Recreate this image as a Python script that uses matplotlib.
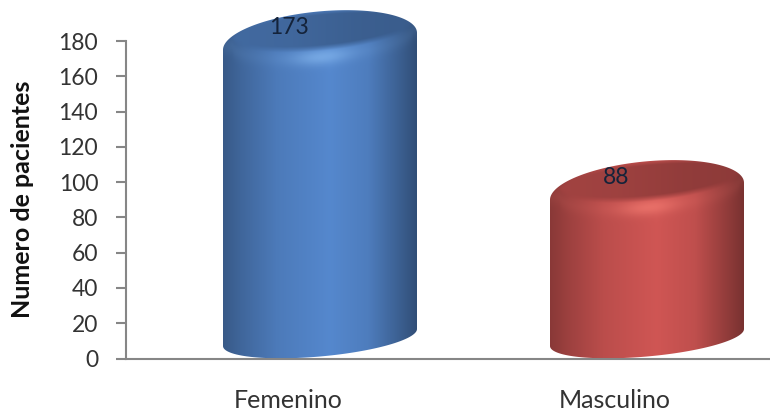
import numpy as np
import matplotlib
matplotlib.use('Agg')
import matplotlib.pyplot as plt
from matplotlib.patches import Polygon

# Chart data
categories = ['Femenino', 'Masculino']
patients = [173, 88]
yticks = list(range(0, 181, 20))

plt.rcParams['font.family'] = ['Lato', 'DejaVu Sans']

FIG_W, FIG_H = 770, 415
fig = plt.figure(figsize=(FIG_W / 100, FIG_H / 100), dpi=100, facecolor='white')
# axes box in pixels: x 126-770, y 41-358.5
ax = fig.add_axes([126 / FIG_W, 1 - 358.5 / FIG_H, (FIG_W - 126) / FIG_W, 317.5 / FIG_H])

PX_X = 327.0  # pixels between the two categories
PX_Y = 317.5 / 180  # pixels per patient
HALF_W = 97.0  # cylinder half width
RISE = 8.5  # the cylinder leans up to the right by this many pixels

# outer shoulder of the cylinder top
SHOULDER_B = 30.0
SHOULDER_LIFT = 12.0
# recessed cap ellipse
CAP_B = 19.0
CAP_LIFT = 23.0
CAP_SCALE = 0.93
# base of the cylinder
FOOT_B = 19.0
FOOT_LIFT = 21.0

SHADE_U = [-1.0, -0.8, -0.45, 0.1, 0.5, 0.8, 1.0]
SHADE_F = [0.66, 0.76, 0.9, 1.0, 0.92, 0.72, 0.58]


def draw_cylinder(ax, xpos, value, base, glow):
    """Draw one shaded, tilted cylinder from 0 up to value."""
    base = np.array(base, dtype=float)
    glow = np.array(glow, dtype=float)
    ycap = value + CAP_LIFT / PX_Y
    ymin, ymax = -2.0, value + 60 / PX_Y

    u = np.linspace(-1.03, 1.03, 420)
    y = np.linspace(ymax, ymin, 520)
    uu, yy = np.meshgrid(u, y)

    # position relative to the cap ellipse, in pixels
    uc = np.clip((uu - 0.03) / CAP_SCALE, -1, 1)
    edge = CAP_B * np.sqrt(1 - uc ** 2)
    v = (ycap - yy) * PX_Y + RISE * uc

    factor = np.interp(uu, SHADE_U, SHADE_F)
    rgb = base[None, None, :] * factor[..., None]

    # lit lip just under the rim of the cap
    w = v - edge
    lip = np.exp(-((w - 8) / 8.0) ** 2) * (w > -6)
    spot = np.exp(-((uu - 0.02) / 0.3) ** 2)
    rgb = rgb + (lip * (0.12 + 0.75 * spot))[..., None] * (glow - rgb) * 0.75

    # recessed cap, darker than the side
    cap_f = np.interp(uu, [-1, -0.3, 0.4, 1], [0.78, 0.76, 0.7, 0.68])
    cap = base[None, None, :] * cap_f[..., None]
    mix = np.clip((edge - np.abs(v) + 2) / 6.0, 0, 1)[..., None]
    rgb = rgb * (1 - mix) + cap * mix

    half = HALF_W / PX_X
    im = ax.imshow(np.clip(rgb, 0, 255).astype(np.uint8),
                   extent=[xpos - 1.03 * half, xpos + 1.03 * half, ymin, ymax],
                   aspect='auto', interpolation='bilinear', zorder=2)

    # outline: far half of the shoulder, near half of the foot
    t = np.linspace(np.pi, 0, 90)
    top = [(xpos + half * np.cos(a),
            value + (SHOULDER_LIFT + SHOULDER_B * np.sin(a) + RISE * np.cos(a)) / PX_Y) for a in t]
    t = np.linspace(0, -np.pi, 90)
    bot = [(xpos + half * np.cos(a),
            (FOOT_LIFT + FOOT_B * np.sin(a) + RISE * np.cos(a)) / PX_Y) for a in t]
    outline = Polygon(top + bot, closed=True, transform=ax.transData, fill=False, lw=0, clip_on=False)
    ax.add_patch(outline)
    im.set_clip_box(fig.bbox)
    im.set_clip_path(outline)


draw_cylinder(ax, 0, patients[0], (85, 136, 206), (135, 185, 240))
draw_cylinder(ax, 1, patients[1], (208, 86, 84), (245, 125, 115))

ax.set_xlim(-194 / PX_X, 450 / PX_X)
ax.set_ylim(0, 180)

# value labels sit on the caps
for i, val in enumerate(patients):
    ax.annotate(str(val), xy=(i, val), xytext=(-31, 26), textcoords='offset pixels',
                ha='center', va='center', fontsize=16.5, color='#14233a',
                zorder=4, annotation_clip=False)

# category names sit left of the cylinder centres
for i, name in enumerate(categories):
    ax.annotate(name, xy=(i, 0), xytext=(-32, -42), textcoords='offset pixels',
                ha='center', va='center', fontsize=18, color='#333333',
                annotation_clip=False)

for side in ('top', 'right'):
    ax.spines[side].set_visible(False)
for side in ('left', 'bottom'):
    ax.spines[side].set_color('#868686')
    ax.spines[side].set_linewidth(1.5)
    ax.spines[side].set_zorder(3)

ax.set_xticks([])
ax.set_yticks(yticks)
ax.tick_params(axis='y', length=7, width=1.5, color='#868686', labelsize=16.5,
               labelcolor='#333333', pad=13)

fig.text(23 / FIG_W, 1 - 199 / FIG_H, 'Numero de pacientes', rotation=90, ha='center',
         va='center', fontsize=18, fontweight='bold', color='#111111')

fig.savefig('out.png', dpi=100, facecolor='white')
